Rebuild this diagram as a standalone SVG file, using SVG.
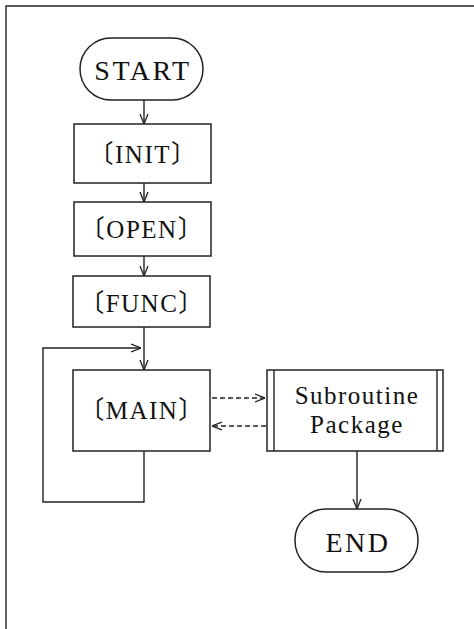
<svg xmlns="http://www.w3.org/2000/svg" width="474" height="629" viewBox="0 0 474 629">
<style>
.box{fill:#fff;stroke:#222;stroke-width:1.5}
.ln{fill:none;stroke:#222;stroke-width:1.4}
.dash{fill:none;stroke:#222;stroke-width:1.3;stroke-dasharray:5,3}
text{font-family:"Liberation Serif","Noto Sans CJK JP",serif;fill:#111;text-anchor:middle}
.t{font-size:25px;letter-spacing:1.5px}
.big{font-size:28px;letter-spacing:2.5px}
</style>
<defs>
<marker id="ah" viewBox="0 0 10 10" refX="10" refY="5" markerWidth="10" markerHeight="10" markerUnits="userSpaceOnUse" orient="auto">
<path d="M0,1 L10,5 L0,9" fill="none" stroke="#222" stroke-width="1.3"/>
</marker>
</defs>
<rect width="474" height="629" fill="#fff"/>
<g id="frame">
<path class="ln" d="M6,629 V6 H474" stroke-width="1.6"/>
</g>
<g id="connectors">
<path class="ln" d="M144,100 V124" marker-end="url(#ah)"/>
<path class="ln" d="M144,183 V202" marker-end="url(#ah)"/>
<path class="ln" d="M144,256 V276" marker-end="url(#ah)"/>
<path class="ln" d="M144,327 V370" marker-end="url(#ah)"/>
<path class="ln" d="M144,451 V502 H43 V348 H141" marker-end="url(#ah)"/>
<path class="dash" d="M212,398 H265" marker-end="url(#ah)"/>
<path class="dash" d="M266,426 H212" marker-end="url(#ah)"/>
<path class="ln" d="M357,451 V509" marker-end="url(#ah)"/>
</g>
<g id="start">
<rect class="box" x="80" y="38" width="123" height="62" rx="31"/>
<text class="big" x="143" y="80">START</text>
</g>
<g id="init">
<rect class="box" x="74" y="124" width="137" height="59"/>
<text class="t" x="143" y="163">〔INIT〕</text>
</g>
<g id="open">
<rect class="box" x="74" y="202" width="137" height="54"/>
<text class="t" x="142" y="238">〔OPEN〕</text>
</g>
<g id="func">
<rect class="box" x="73" y="276" width="137" height="51"/>
<text class="t" x="142" y="312">〔FUNC〕</text>
</g>
<g id="main">
<rect class="box" x="73" y="370" width="137" height="81"/>
<text class="t" x="142" y="419" letter-spacing="2.5">〔MAIN〕</text>
</g>
<g id="subroutine">
<rect class="box" x="267" y="370" width="176" height="81"/>
<path class="ln" d="M274,370 V451 M437,370 V451"/>
<text class="t" x="357" y="404">Subroutine</text>
<text class="t" x="357" y="433" letter-spacing="1">Package</text>
</g>
<g id="end">
<rect class="box" x="295" y="509" width="123" height="63" rx="31"/>
<text class="big" x="358" y="552" letter-spacing="3">END</text>
</g>
</svg>
